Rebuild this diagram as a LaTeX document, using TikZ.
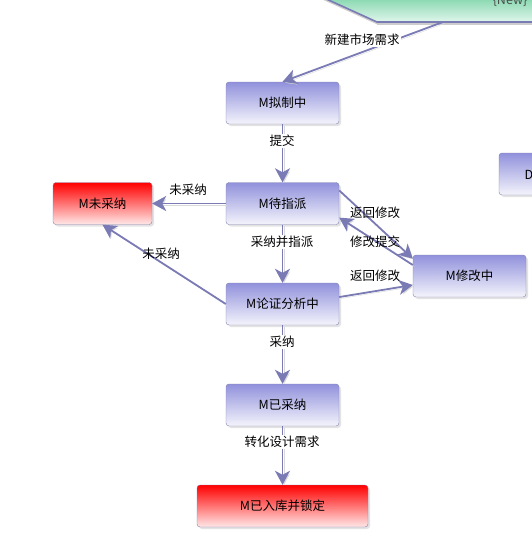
\documentclass[tikz,border=0pt]{standalone}
\usepackage{fontspec}
\setmainfont{Noto Sans CJK SC}
\usetikzlibrary{arrows.meta,shadows}
\definecolor{linkc}{RGB}{122,122,181}
\definecolor{framec}{RGB}{130,130,175}
\definecolor{stateTop}{RGB}{145,145,220}
\definecolor{stateBot}{RGB}{244,244,252}
\definecolor{redTop}{RGB}{255,0,0}
\definecolor{redBot}{RGB}{255,232,232}
\definecolor{greenTop}{RGB}{60,190,125}
\definecolor{greenBot}{RGB}{225,246,236}
\begin{document}
\begin{tikzpicture}[
  x=1pt, y=-1pt,
  every node/.style={font=\fontsize{12.5}{14}\selectfont},
  state/.style={
    draw=framec,
    rounded corners=3pt,
    top color=stateTop,
    bottom color=stateBot,
    minimum width=113pt,
    minimum height=42pt,
    drop shadow={shadow xshift=2pt, shadow yshift=-2pt, fill=black!22}
  },
  redstate/.style={state, top color=redTop, bottom color=redBot},
  arrow/.style={
    -{Stealth[length=14pt, width=15pt, inset=4pt]},
    line width=1.8pt, draw=linkc,
    preaction={draw=black!15, transform canvas={shift={(1.5pt,-1.5pt)}}}
  },
  lbl/.style={fill=white, inner sep=1pt}
]
\useasboundingbox (0,0) rectangle (532,538);
\clip (0,0) rectangle (532,538);

% partly hidden source state at the top
\draw[draw=black!20, line width=1.8pt, transform canvas={shift={(1.5pt,-2pt)}}]
  (377,22) -- (280,-22);
\draw[draw=black!20, line width=1.8pt, transform canvas={shift={(0pt,-2pt)}}]
  (377,22) -- (600,22);
\draw[draw=linkc, top color=greenTop, bottom color=greenBot, middle color=greenTop, line width=1.6pt]
  (377,22) -- (280,-22) -- (377,-66) -- (600,-66) -- (640,-22) -- (600,22) -- cycle;
\node[text=black!70] (newtag) at (510,1) {\{New\}};
\coordinate (newout) at (443,22);

% partly hidden state on the right
\node[state] (other) at (555.5,174) {};
\node[anchor=west] (othertxt) at (521,175) {D};

\node[state] (draft) at (282.5,103) {M拟制中};
\node[state] (assign) at (282.5,203.5) {M待指派};
\node[redstate, minimum width=99pt] (reject) at (102.5,203.5) {M未采纳};
\node[state] (analysis) at (282.5,304) {M论证分析中};
\node[state] (modify) at (469.5,276) {M修改中};
\node[state] (accept) at (282.5,405) {M已采纳};
\node[redstate, minimum width=171pt] (locked) at (282.5,506) {M已入库并锁定};

\draw[arrow] (newout) -- (draft.north);
\draw[arrow] (draft) -- (assign);
\draw[arrow] (assign) -- (reject);
\draw[arrow] (analysis.west) -- (reject.south);
\draw[arrow] (assign) -- (analysis);
\draw[arrow] (assign.13) -- (modify.163);
\draw[arrow] (modify.169) -- (assign.-14);
\draw[arrow] (analysis.7) -- (modify.-171);
\draw[arrow] (analysis) -- (accept);
\draw[arrow] (accept) -- (locked);

\node[lbl] (l-new) at (362,40) {新建市场需求};
\node[lbl] (l-submit) at (282,141) {提交};
\node (l-rej1) at (188,190) {未采纳};
\node (l-rej2) at (161,254) {未采纳};
\node[lbl] (l-assign) at (282,242) {采纳并指派};
\node (l-back1) at (375,213) {返回修改};
\node (l-resub) at (375,242) {修改提交};
\node (l-back2) at (375,276) {返回修改};
\node[lbl] (l-accept) at (282,342) {采纳};
\node[lbl] (l-design) at (282,442) {转化设计需求};
\end{tikzpicture}
\end{document}
